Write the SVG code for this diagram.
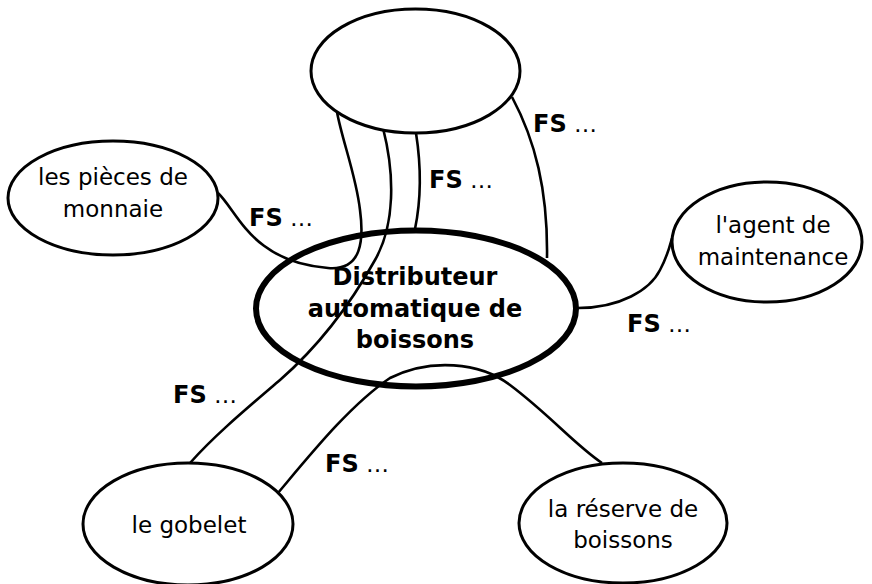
<svg xmlns="http://www.w3.org/2000/svg" width="872" height="584" viewBox="0 0 872 584">
<style>
.bg{fill:#fff}
.node{fill:#fff;stroke:#000;stroke-width:3}
.main{fill:none;stroke:#000;stroke-width:6}
.con{fill:none;stroke:#000;stroke-width:2.6}
.t{font-family:"DejaVu Sans",sans-serif;font-size:23px;fill:#000;text-anchor:middle}
.tb{font-family:"DejaVu Sans",sans-serif;font-size:24px;font-weight:bold;fill:#000;text-anchor:middle}
.fs{font-family:"DejaVu Sans",sans-serif;font-size:23px;fill:#000}
.fs .b{font-weight:bold;font-size:24px}
</style>
<rect class="bg" x="0" y="0" width="872" height="584"/>
<g id="connectors">
<path class="con" d="M218,193 C238,212 252,262 328,268 C362,271 364,240 360,210 C356,175 342,140 337,112"/>
<path class="con" d="M383,128 C395,175 395,225 375,260 C350,305 320,345 280,380 C245,410 215,435 190,463"/>
<path class="con" d="M416,133 C421,165 421,200 415,229"/>
<path class="con" d="M512,97 C535,140 548,190 547,258"/>
<path class="con" d="M578,308 C620,308 650,290 660,270 C668,255 670,245 672,238"/>
<path class="con" d="M278,493 C310,455 350,405 390,378 C430,358 480,362 510,385 C550,415 575,445 602,463"/>
</g>
<g id="labels">
<text class="fs" x="533" y="132"><tspan class="b">FS</tspan> …</text>
<text class="fs" x="429" y="188"><tspan class="b">FS</tspan> …</text>
<text class="fs" x="249" y="226"><tspan class="b">FS</tspan> …</text>
<text class="fs" x="627" y="332"><tspan class="b">FS</tspan> …</text>
<text class="fs" x="173" y="403"><tspan class="b">FS</tspan> …</text>
<text class="fs" x="325" y="472"><tspan class="b">FS</tspan> …</text>
</g>
<g id="node-top">
<ellipse class="node" cx="415.5" cy="71" rx="104.5" ry="62"/>
</g>
<g id="node-pieces">
<ellipse class="node" cx="113" cy="198" rx="105" ry="57"/>
<text class="t" x="113" y="185">les pièces de</text>
<text class="t" x="113" y="217">monnaie</text>
</g>
<g id="node-agent">
<ellipse class="node" cx="767" cy="242" rx="95" ry="60"/>
<text class="t" x="773" y="233">l'agent de</text>
<text class="t" x="773" y="265">maintenance</text>
</g>
<g id="node-gobelet">
<ellipse class="node" cx="188" cy="524" rx="105" ry="61"/>
<text class="t" x="189" y="533">le gobelet</text>
</g>
<g id="node-reserve">
<ellipse class="node" cx="623" cy="523" rx="104" ry="60"/>
<text class="t" x="623" y="517">la réserve de</text>
<text class="t" x="623" y="548">boissons</text>
</g>
<g id="node-main">
<ellipse class="main" cx="416" cy="308.5" rx="160" ry="78"/>
<text class="tb" x="415" y="285">Distributeur</text>
<text class="tb" x="415" y="317">automatique de</text>
<text class="tb" x="415" y="348">boissons</text>
</g>
</svg>
